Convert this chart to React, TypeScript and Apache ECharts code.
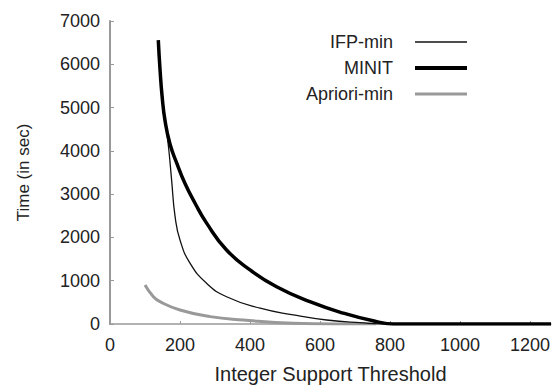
import React, { useEffect, useRef } from "react";
import * as echarts from "echarts";

const xTicks = [0, 200, 400, 600, 800, 1000, 1200];
const yTicks = [0, 1000, 2000, 3000, 4000, 5000, 6000, 7000];

const minitX = [138, 143, 149, 157, 171, 191, 214, 243, 276, 333, 400, 476, 571, 667, 762, 809, 900, 1000, 1100, 1260];
const minitY = [6560, 5870, 5250, 4710, 4170, 3710, 3250, 2790, 2330, 1710, 1250, 860, 515, 250, 55, 0, 0, 0, 0, 0];

const ifpX = [138, 149, 157, 167, 176, 186, 200, 229, 276, 333, 429, 524, 619, 714, 800, 900, 1050, 1250];
const ifpY = [6500, 5250, 4710, 4100, 3330, 2480, 1940, 1400, 940, 630, 365, 210, 92, 30, 0, 0, 0, 0];

const aprX = [100, 124, 143, 200, 286, 381, 524, 640, 760];
const aprY = [900, 630, 515, 323, 170, 92, 16, 0, 0];

const zip = (xs: number[], ys: number[]) => xs.map((x, i) => [x, ys[i]]);

const bar = (h: number) => `path://M0,0 L52,0 L52,${h} L0,${h} Z`;

export default function App() {
  const ref = useRef<HTMLDivElement>(null);
  useEffect(() => {
    if (!ref.current) return;
    const chart = echarts.init(ref.current, undefined, { renderer: "svg" });
    const font = "'Liberation Sans', Arial, sans-serif";
    chart.setOption({
      animation: false,
      backgroundColor: "#ffffff",
      textStyle: { fontFamily: font },
      grid: { left: 110, right: 5, top: 21, bottom: 68, containLabel: false },
      legend: {
        orient: "vertical",
        align: "right",
        right: 84,
        top: 28,
        itemWidth: 52,
        itemHeight: 14,
        itemGap: 8,
        textStyle: { fontSize: 18, color: "#222", fontFamily: font, padding: [0, 17, 0, 0] },
        data: [
          { name: "IFP-min", icon: bar(1.3) },
          { name: "MINIT", icon: bar(4) },
          { name: "Apriori-min", icon: bar(3) },
        ],
      },
      xAxis: {
        type: "value",
        min: xTicks[0],
        max: 1260,
        interval: 200,
        name: "Integer Support Threshold",
        nameLocation: "middle",
        nameGap: 40,
        nameTextStyle: { fontSize: 20, color: "#222", fontFamily: font },
        splitLine: { show: false },
        axisLine: { lineStyle: { color: "#999", width: 1.5 } },
        axisTick: { inside: true, length: 3, lineStyle: { color: "#999" } },
        axisLabel: {
          fontSize: 18,
          color: "#222",
          margin: 12,
          showMaxLabel: false,
          fontFamily: font,
          formatter: (v: number) => (xTicks.includes(v) ? String(v) : ""),
        },
      },
      yAxis: {
        type: "value",
        min: yTicks[0],
        max: yTicks[yTicks.length - 1],
        interval: 1000,
        name: "Time (in sec)",
        nameLocation: "middle",
        nameGap: 78,
        nameTextStyle: { fontSize: 17, color: "#222", fontFamily: font },
        splitLine: { show: false },
        axisLine: { show: true, lineStyle: { color: "#999", width: 2 } },
        axisTick: { show: true, inside: true, length: 4, lineStyle: { color: "#999" } },
        axisLabel: {
          fontSize: 18,
          color: "#222",
          margin: 10,
          fontFamily: font,
          formatter: (v: number) => String(v),
        },
      },
      series: [
        {
          name: "IFP-min",
          type: "line",
          symbol: "none",
          smooth: 0.5,
          data: zip(ifpX, ifpY),
          lineStyle: { color: "#111", width: 1.3 },
          itemStyle: { color: "#111" },
          z: 3,
        },
        {
          name: "MINIT",
          type: "line",
          symbol: "none",
          smooth: 0.5,
          data: zip(minitX, minitY),
          lineStyle: { color: "#000", width: 3.5 },
          itemStyle: { color: "#000" },
          z: 4,
        },
        {
          name: "Apriori-min",
          type: "line",
          symbol: "none",
          smooth: 0.5,
          data: zip(aprX, aprY),
          lineStyle: { color: "#999", width: 3 },
          itemStyle: { color: "#999" },
          z: 2,
        },
      ],
    });
    return () => chart.dispose();
  }, []);
  return <div ref={ref} style={{ width: 556, height: 392, position: "absolute", left: 0, top: 0 }} />;
}
